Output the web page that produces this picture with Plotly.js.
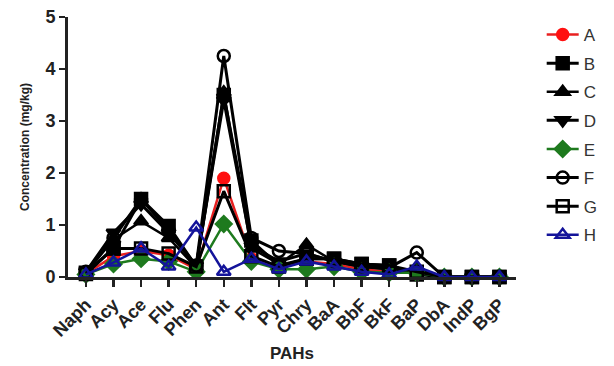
<!DOCTYPE html>
<html>
<head>
<meta charset="utf-8">
<script src="https://cdn.plot.ly/plotly-3.0.1.min.js"></script>
<style>html,body{margin:0;padding:0;background:#fff;}#chart{width:614px;height:366px;}</style>
</head>
<body>
<div id="chart"></div>
<script>
var categories = ["Naph","Acy","Ace","Flu","Phen","Ant","Flt","Pyr","Chry","BaA","BbF","BkF","BaP","DbA","IndP","BgP"];
var seriesNames = ["A","B","C","D","E","F","G","H"];
var valuesA = [0.06, 0.40, 0.50, 0.42, 0.15, 1.90, 0.35, 0.18, 0.30, 0.25, 0.15, 0.10, 0.10, 0.00, 0.00, 0.00];
var valuesB = [0.08, 0.55, 1.50, 0.98, 0.20, 3.50, 0.70, 0.22, 0.35, 0.35, 0.25, 0.22, 0.05, 0.00, 0.00, 0.00];
var valuesC = [0.08, 0.72, 1.07, 0.75, 0.18, 3.55, 0.55, 0.25, 0.62, 0.30, 0.20, 0.15, 0.15, 0.00, 0.00, 0.00];
var valuesD = [0.10, 0.85, 1.40, 0.85, 0.22, 3.40, 0.60, 0.30, 0.45, 0.30, 0.20, 0.15, 0.10, 0.00, 0.00, 0.00];
var valuesE = [0.05, 0.25, 0.35, 0.30, 0.10, 1.02, 0.30, 0.15, 0.15, 0.20, 0.10, 0.08, 0.08, 0.00, 0.00, 0.00];
var valuesF = [0.10, 0.75, 1.50, 0.90, 0.22, 4.25, 0.75, 0.50, 0.45, 0.30, 0.20, 0.18, 0.47, 0.00, 0.00, 0.00];
var valuesG = [0.06, 0.55, 0.55, 0.45, 0.20, 1.65, 0.40, 0.20, 0.35, 0.35, 0.25, 0.22, 0.10, 0.00, 0.00, 0.00];
var valuesH = [0.05, 0.28, 0.55, 0.20, 0.95, 0.10, 0.35, 0.15, 0.30, 0.20, 0.10, 0.05, 0.20, 0.00, 0.00, 0.00];

var allValues = [valuesA, valuesB, valuesC, valuesD, valuesE, valuesF, valuesG, valuesH];
var styles = [
  {color:"#e82020", mcolor:"#ff1010", symbol:"circle", size:11, lw:2.5},
  {color:"#000000", mcolor:"#000000", symbol:"square", size:12, lw:3},
  {color:"#000000", mcolor:"#000000", symbol:"triangle-up", size:12, lw:2.5},
  {color:"#000000", mcolor:"#000000", symbol:"triangle-down", size:12, lw:3},
  {color:"#1e7a1e", mcolor:"#1e7a1e", symbol:"diamond", size:12, lw:2.5},
  {color:"#000000", mcolor:"#000000", symbol:"circle-open", size:12, lw:3},
  {color:"#000000", mcolor:"#000000", symbol:"square-open", size:12, lw:3},
  {color:"#14149a", mcolor:"#14149a", symbol:"triangle-up-open", size:12, lw:2.5}
];

var traces = seriesNames.map(function(name, i){
  var s = styles[i];
  return {
    type: "scatter", mode: "lines+markers", name: name, legendgroup: "g" + i,
    x: categories, y: allValues[i],
    line: {color: s.color, width: s.lw},
    marker: {symbol: s.symbol, size: s.size, color: s.mcolor, line: {color: s.mcolor, width: 2.5}},
    cliponaxis: false
  };
});

var layout = {
  width: 614, height: 366,
  margin: {l: 68, r: 97, t: 17, b: 89},
  paper_bgcolor: "#fff", plot_bgcolor: "#fff",
  font: {family: "Liberation Sans, Arial, sans-serif", color: "#222"},
  showlegend: true,
  legend: {x: 1.055, y: 1.0, xanchor: "left", yanchor: "top", traceorder: "grouped",
    font: {size: 17, color: "#333"}, itemwidth: 32, tracegroupgap: 3.5, bgcolor: "rgba(0,0,0,0)"},
  xaxis: {
    type: "category", range: [-0.65, 15.6],
    showgrid: false, zeroline: false,
    showline: true, linecolor: "#222", linewidth: 3,
    ticks: "outside", ticklen: 7, tickwidth: 2.5, tickcolor: "#222",
    tickangle: -45,
    tickfont: {size: 18, weight: "bold", color: "#222"},
    title: {text: "PAHs", font: {size: 17, weight: "bold", color: "#222"}, standoff: 8}
  },
  yaxis: {
    range: [0, 5], dtick: 1,
    showgrid: false, zeroline: false,
    showline: true, linecolor: "#222", linewidth: 3,
    ticks: "outside", ticklen: 6, tickwidth: 2.5, tickcolor: "#222",
    tickfont: {size: 18, weight: "bold", color: "#222"},
    title: {text: "Concentration (mg/kg)", font: {size: 12, weight: "bold", color: "#222"}, standoff: 14}
  }
};

Plotly.newPlot("chart", traces, layout, {displayModeBar: false, staticPlot: true});
</script>
</body>
</html>
